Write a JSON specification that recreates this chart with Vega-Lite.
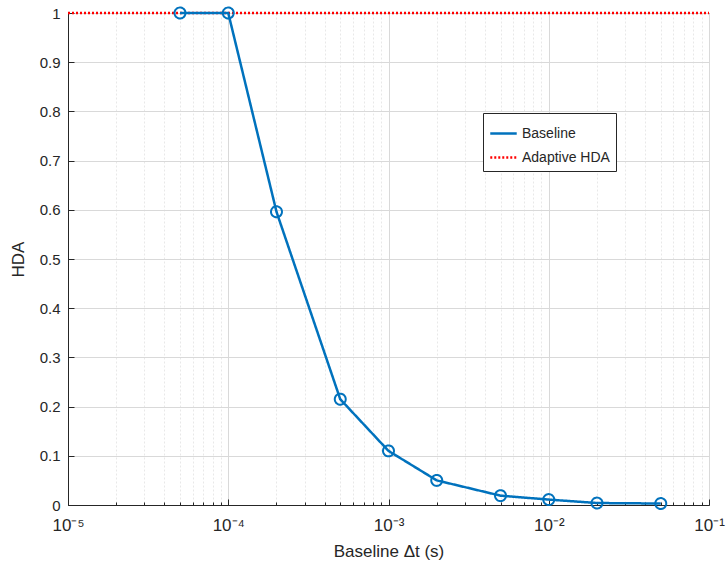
{
  "$schema": "https://vega.github.io/schema/vega-lite/v6.json",
  "autosize": "none",
  "width": 641,
  "height": 492,
  "padding": {"left": 68, "top": 13, "right": 18, "bottom": 65},
  "background": "white",
  "config": {
    "font": "Liberation Sans",
    "view": {"stroke": "#262626", "strokeWidth": 1}
  },
  "datasets": {
    "baseline": [
      {"dt": 0.00005, "hda": 1.0, "series": "Baseline"},
      {"dt": 0.0001, "hda": 1.0, "series": "Baseline"},
      {"dt": 0.0002, "hda": 0.596, "series": "Baseline"},
      {"dt": 0.0005, "hda": 0.215, "series": "Baseline"},
      {"dt": 0.001, "hda": 0.11, "series": "Baseline"},
      {"dt": 0.002, "hda": 0.05, "series": "Baseline"},
      {"dt": 0.005, "hda": 0.019, "series": "Baseline"},
      {"dt": 0.01, "hda": 0.011, "series": "Baseline"},
      {"dt": 0.02, "hda": 0.004, "series": "Baseline"},
      {"dt": 0.05, "hda": 0.003, "series": "Baseline"}
    ],
    "adaptive": [
      {"dt": 0.00001, "hda": 1.0, "series": "Adaptive HDA"},
      {"dt": 0.1, "hda": 1.0, "series": "Adaptive HDA"}
    ]
  },
  "encoding": {
    "x": {
      "field": "dt", "type": "quantitative",
      "scale": {"type": "log", "domain": [0.00001, 0.1], "nice": false},
      "axis": {
        "title": "Baseline Δt (s)",
        "titleFontSize": 17, "titleFontWeight": "normal", "titleColor": "#262626", "titlePadding": 10,
        "values": [0.00001,0.00002,0.00003,0.00004,0.00005,0.00006,0.00007,0.00008,0.00009,
                   0.0001,0.0002,0.0003,0.0004,0.0005,0.0006,0.0007,0.0008,0.0009,
                   0.001,0.002,0.003,0.004,0.005,0.006,0.007,0.008,0.009,
                   0.01,0.02,0.03,0.04,0.05,0.06,0.07,0.08,0.09,0.1],
        "labelExpr": "abs(log(datum.value)/LN10 - round(log(datum.value)/LN10)) < 0.000001 ? '10' + ['⁻⁵','⁻⁴','⁻³','⁻²','⁻¹'][round(log(datum.value)/LN10)+5] : ''",
        "labelFontSize": 17, "labelColor": "#262626", "labelPadding": 18, "labelFlush": false,
        "domain": true, "domainColor": "#262626",
        "ticks": true, "tickColor": "#262626",
        "tickSize": {"condition": {"test": "abs(log(datum.value)/LN10 - round(log(datum.value)/LN10)) < 0.000001", "value": -6}, "value": -3},
        "grid": true,
        "gridColor": {"condition": {"test": "abs(log(datum.value)/LN10 - round(log(datum.value)/LN10)) < 0.000001", "value": "#d9d9d9"}, "value": "#e8e8e8"},
        "gridDash": {"condition": {"test": "abs(log(datum.value)/LN10 - round(log(datum.value)/LN10)) < 0.000001", "value": []}, "value": [2, 2]}
      }
    },
    "y": {
      "field": "hda", "type": "quantitative",
      "scale": {"domain": [0, 1], "nice": false, "zero": true},
      "axis": {
        "title": "HDA",
        "titleFontSize": 17, "titleFontWeight": "normal", "titleColor": "#262626", "titlePadding": 12,
        "values": [0,0.1,0.2,0.3,0.4,0.5,0.6,0.7,0.8,0.9,1],
        "labelExpr": "format(datum.value, '.1~f')",
        "labelFontSize": 15, "labelColor": "#262626", "labelPadding": 14,
        "domainColor": "#262626", "tickColor": "#262626", "tickSize": -6,
        "grid": true, "gridColor": "#d9d9d9"
      }
    },
    "color": {
      "field": "series", "type": "nominal",
      "scale": {"domain": ["Baseline", "Adaptive HDA"], "range": ["#0072BD", "#FF0000"]},
      "legend": {
        "title": null, "orient": "none", "legendX": 415, "legendY": 100,
        "symbolType": "stroke", "symbolSize": 700, "symbolStrokeWidth": 2.5,
        "labelFontSize": 14, "labelColor": "#262626", "labelFont": "Liberation Sans",
        "strokeColor": "#262626", "fillColor": "white", "padding": 6, "rowPadding": 2
      }
    },
    "strokeDash": {
      "field": "series", "type": "nominal",
      "scale": {"domain": ["Baseline", "Adaptive HDA"], "range": [[1, 0], [2, 2]]},
      "legend": {
        "title": null, "orient": "none", "legendX": 415, "legendY": 100,
        "symbolType": "stroke", "symbolSize": 700, "symbolStrokeWidth": 2.5,
        "labelFontSize": 14, "labelColor": "#262626", "labelFont": "Liberation Sans",
        "strokeColor": "#262626", "fillColor": "white", "padding": 6, "rowPadding": 2
      }
    }
  },
  "layer": [
    {
      "data": {"name": "adaptive"},
      "mark": {"type": "line", "strokeWidth": 2.5, "clip": false}
    },
    {
      "data": {"name": "baseline"},
      "mark": {"type": "line", "strokeWidth": 2.5}
    },
    {
      "data": {"name": "baseline"},
      "mark": {"type": "point", "filled": false, "size": 120, "strokeWidth": 2, "opacity": 1, "clip": false},
      "encoding": {"strokeDash": {"value": [1, 0]}}
    }
  ]
}
